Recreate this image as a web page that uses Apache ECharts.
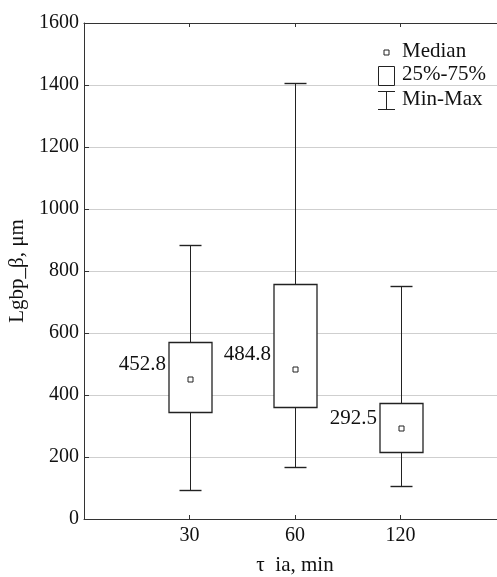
<!DOCTYPE html>
<html>
<head>
<meta charset="utf-8">
<script src="https://cdn.jsdelivr.net/npm/echarts@6/dist/echarts.min.js"></script>
<style>
html,body{margin:0;padding:0;background:#fff;}
#chart{width:497px;height:577px;}
</style>
</head>
<body>
<div id="chart"></div>
<script>
const categories = ['30', '60', '120'];
const mins = [94, 169, 106];
const q1s = [346, 360, 215];
const medians = [452.8, 484.8, 292.5];
const q3s = [571, 758, 373];
const maxs = [883, 1407, 752];
const yTicks = [0, 200, 400, 600, 800, 1000, 1200, 1400, 1600];

// styling only
const labelDy = [-14, -14, -10];
const FONT = '"Liberation Serif", "Times New Roman", serif';

const chart = echarts.init(document.getElementById('chart'));
const data = categories.map((c, i) => [i + 1, mins[i], q1s[i], medians[i], q3s[i], maxs[i], i]);

function renderItem(params, api) {
  const x = api.value(0);
  const idx = api.value(6);
  const pMin = api.coord([x, api.value(1)]);
  const pQ1 = api.coord([x, api.value(2)]);
  const pMed = api.coord([x, api.value(3)]);
  const pQ3 = api.coord([x, api.value(4)]);
  const pMax = api.coord([x, api.value(5)]);
  const cx = Math.round(pMed[0]) + 0.5;
  const boxHalf = 21.5, capHalf = 11;
  const line = '#222';
  const r = v => Math.round(v) + 0.5;
  return {
    type: 'group',
    children: [
      { type: 'line', shape: { x1: cx, y1: r(pMax[1]), x2: cx, y2: r(pQ3[1]) }, style: { stroke: line, lineWidth: 1 } },
      { type: 'line', shape: { x1: cx, y1: r(pQ1[1]), x2: cx, y2: r(pMin[1]) }, style: { stroke: line, lineWidth: 1 } },
      { type: 'line', shape: { x1: cx - capHalf, y1: r(pMax[1]), x2: cx + capHalf, y2: r(pMax[1]) }, style: { stroke: line, lineWidth: 1.4 } },
      { type: 'line', shape: { x1: cx - capHalf, y1: r(pMin[1]), x2: cx + capHalf, y2: r(pMin[1]) }, style: { stroke: line, lineWidth: 1.4 } },
      { type: 'rect', shape: { x: cx - boxHalf, y: r(pQ3[1]), width: boxHalf * 2, height: Math.round(pQ1[1]) - Math.round(pQ3[1]) }, style: { stroke: line, fill: '#fff', lineWidth: 1.3 } },
      { type: 'rect', shape: { x: cx - 2.5, y: r(pMed[1]) - 2.5, width: 5, height: 5 }, style: { stroke: line, fill: '#fff', lineWidth: 1 } },
      { type: 'text', style: { text: medians[idx].toFixed(1), x: cx - boxHalf - 3, y: pMed[1] + labelDy[idx], align: 'right', verticalAlign: 'middle', font: '21px ' + FONT, fill: '#111' } }
    ]
  };
}

const axisCommon = {
  type: 'value', min: 0, max: 4, interval: 1,
  axisLine: { show: true, lineStyle: { color: '#333', width: 1 } },
  axisTick: { show: true, inside: true, length: 4, lineStyle: { color: '#333' } },
  splitLine: { show: false }
};

const option = {
  backgroundColor: '#fff',
  animation: false,
  grid: { left: 84, top: 23, width: 422, height: 496, containLabel: false, outerBoundsMode: 'none' },
  xAxis: [
    Object.assign({}, axisCommon, {
      position: 'bottom',
      name: 'τ  ia, min', nameLocation: 'middle', nameGap: 36,
      nameTextStyle: { fontFamily: FONT, fontSize: 21, color: '#111' },
      axisLabel: { show: true, margin: 7, fontFamily: FONT, fontSize: 20, color: '#111',
        formatter: v => (categories[v - 1] !== undefined ? categories[v - 1] : '') }
    }),
    Object.assign({}, axisCommon, { position: 'top', axisLabel: { show: false } })
  ],
  yAxis: {
    type: 'value', min: yTicks[0], max: yTicks[yTicks.length - 1], interval: 200,
    name: 'Lgbp_β, μm', nameLocation: 'middle', nameGap: 50, nameRotate: 90,
    nameTextStyle: { fontFamily: FONT, fontSize: 21, color: '#111' },
    axisLine: { show: true, lineStyle: { color: '#333', width: 1 } },
    axisTick: { show: true, inside: true, length: 5, lineStyle: { color: '#333' } },
    axisLabel: { margin: 5, fontFamily: FONT, fontSize: 20, color: '#111', formatter: v => String(v) },
    splitLine: { show: true, lineStyle: { color: '#cfcfcf', width: 1 } }
  },
  series: [{
    type: 'custom',
    xAxisIndex: 0,
    renderItem: renderItem,
    data: data,
    encode: { x: 0, y: [1, 2, 3, 4, 5] },
    clip: false,
    z: 10
  }],
  graphic: [
    { type: 'rect', left: 383.5, top: 49.5, shape: { x: 0, y: 0, width: 5, height: 5 }, style: { stroke: '#222', fill: '#fff', lineWidth: 1 }, z: 20 },
    { type: 'text', left: 402, top: 41, style: { text: 'Median', font: '21px ' + FONT, fill: '#111' }, z: 20 },
    { type: 'rect', shape: { x: 378.5, y: 66.5, width: 16, height: 19 }, style: { stroke: '#222', fill: '#fff', lineWidth: 1 }, z: 20 },
    { type: 'text', left: 402, top: 64, style: { text: '25%-75%', font: '21px ' + FONT, fill: '#111' }, z: 20 },
    { type: 'line', shape: { x1: 378, y1: 91.5, x2: 395, y2: 91.5 }, style: { stroke: '#222', lineWidth: 1 }, z: 20 },
    { type: 'line', shape: { x1: 386.5, y1: 91.5, x2: 386.5, y2: 109.5 }, style: { stroke: '#222', lineWidth: 1 }, z: 20 },
    { type: 'line', shape: { x1: 378, y1: 109.5, x2: 395, y2: 109.5 }, style: { stroke: '#222', lineWidth: 1 }, z: 20 },
    { type: 'text', left: 402, top: 89, style: { text: 'Min-Max', font: '21px ' + FONT, fill: '#111' }, z: 20 }
  ]
};
chart.setOption(option);
</script>
</body>
</html>
